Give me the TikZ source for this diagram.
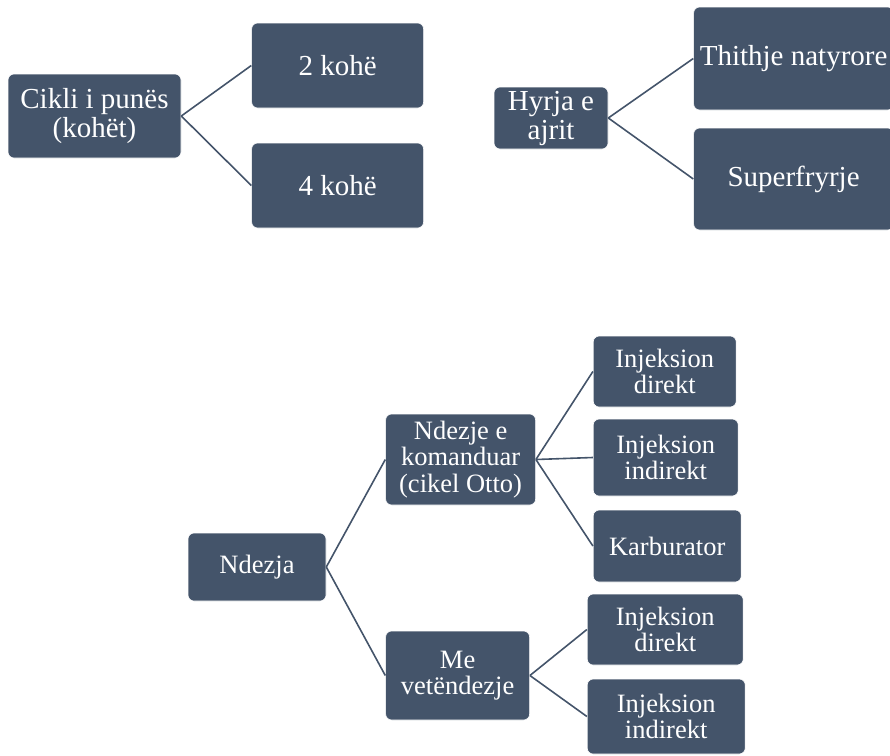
\documentclass[tikz,border=0pt]{standalone}
\usepackage{fontspec}
\setmainfont{LiberationSerif}[Extension=.ttf, UprightFont=*-Regular]
\usepackage{xcolor}
\usetikzlibrary{positioning}
\definecolor{slate}{HTML}{44546A}

\begin{document}
\begin{tikzpicture}[
  x=1pt, y=-1pt,
  box/.style={fill=slate, draw=white, line width=0.6pt, rounded corners=6pt, text=white, align=center, inner sep=0pt},
  dims/.style 2 args={minimum width=#1pt, minimum height=#2pt},
  bigtxt/.style={font=\fontsize{29}{29}\selectfont},
  smalltxt/.style={font=\fontsize{26.5}{26.5}\selectfont},
  link/.style={draw=slate, line width=1.6pt}
]
\useasboundingbox (0,0) rectangle (890,755);
\clip (0,0) rectangle (890,755);

% cikli i punes
\node[box, bigtxt, dims={173}{84}] (cikli) at (94.5,116) {Cikli i punës\\(kohët)};
\node[box, bigtxt, dims={172}{85}, right=70pt of cikli, yshift=50.5pt] (two) {2 kohë};
\node[box, bigtxt, dims={172}{85}, right=70pt of cikli, yshift=-69.5pt] (four) {4 kohë};

% hyrja e ajrit
\node[box, bigtxt, dims={114}{62}] (hyrja) at (551,118) {Hyrja e\\ajrit};
\node[box, bigtxt, dims={200}{103}, right=85pt of hyrja, yshift=59.5pt] (thithje) {Thithje natyrore};
\node[box, bigtxt, dims={200}{102}, right=85pt of hyrja, yshift=-61pt] (superf) {Superfryrje};

% ndezja
\node[box, smalltxt, dims={138}{68}] (ndezja) at (257,567) {Ndezja};
\node[box, smalltxt, dims={150}{91}, right=59pt of ndezja, yshift=107.5pt] (komand) {Ndezje e\\komanduar\\(cikel Otto)};
\node[box, smalltxt, dims={144}{89}, right=59pt of ndezja, yshift=-108.5pt] (vetend) {Me\\vetëndezje};
\node[box, smalltxt, dims={143}{71}, right=57pt of komand, yshift=88pt] (injdA) {Injeksion\\direkt};
\node[box, smalltxt, dims={145}{77}, right=57pt of komand, yshift=2pt] (injiA) {Injeksion\\indirekt};
\node[box, smalltxt, dims={148}{72}, right=57pt of komand, yshift=-86.5pt] (karb) {Karburator};
\node[box, smalltxt, dims={156}{71}, right=57pt of vetend, yshift=46pt] (injdB) {Injeksion\\direkt};
\node[box, smalltxt, dims={158}{75}, right=57pt of vetend, yshift=-41pt] (injiB) {Injeksion\\indirekt};

\draw[link] (cikli.east) -- (two.west);
\draw[link] (cikli.east) -- (four.west);
\draw[link] (hyrja.east) -- (thithje.west);
\draw[link] (hyrja.east) -- (superf.west);
\draw[link] (ndezja.east) -- (komand.west);
\draw[link] (ndezja.east) -- (vetend.west);
\draw[link] (komand.east) -- (injdA.west);
\draw[link] (komand.east) -- (injiA.west);
\draw[link] (komand.east) -- (karb.west);
\draw[link] (vetend.east) -- (injdB.west);
\draw[link] (vetend.east) -- (injiB.west);
\end{tikzpicture}
\end{document}
